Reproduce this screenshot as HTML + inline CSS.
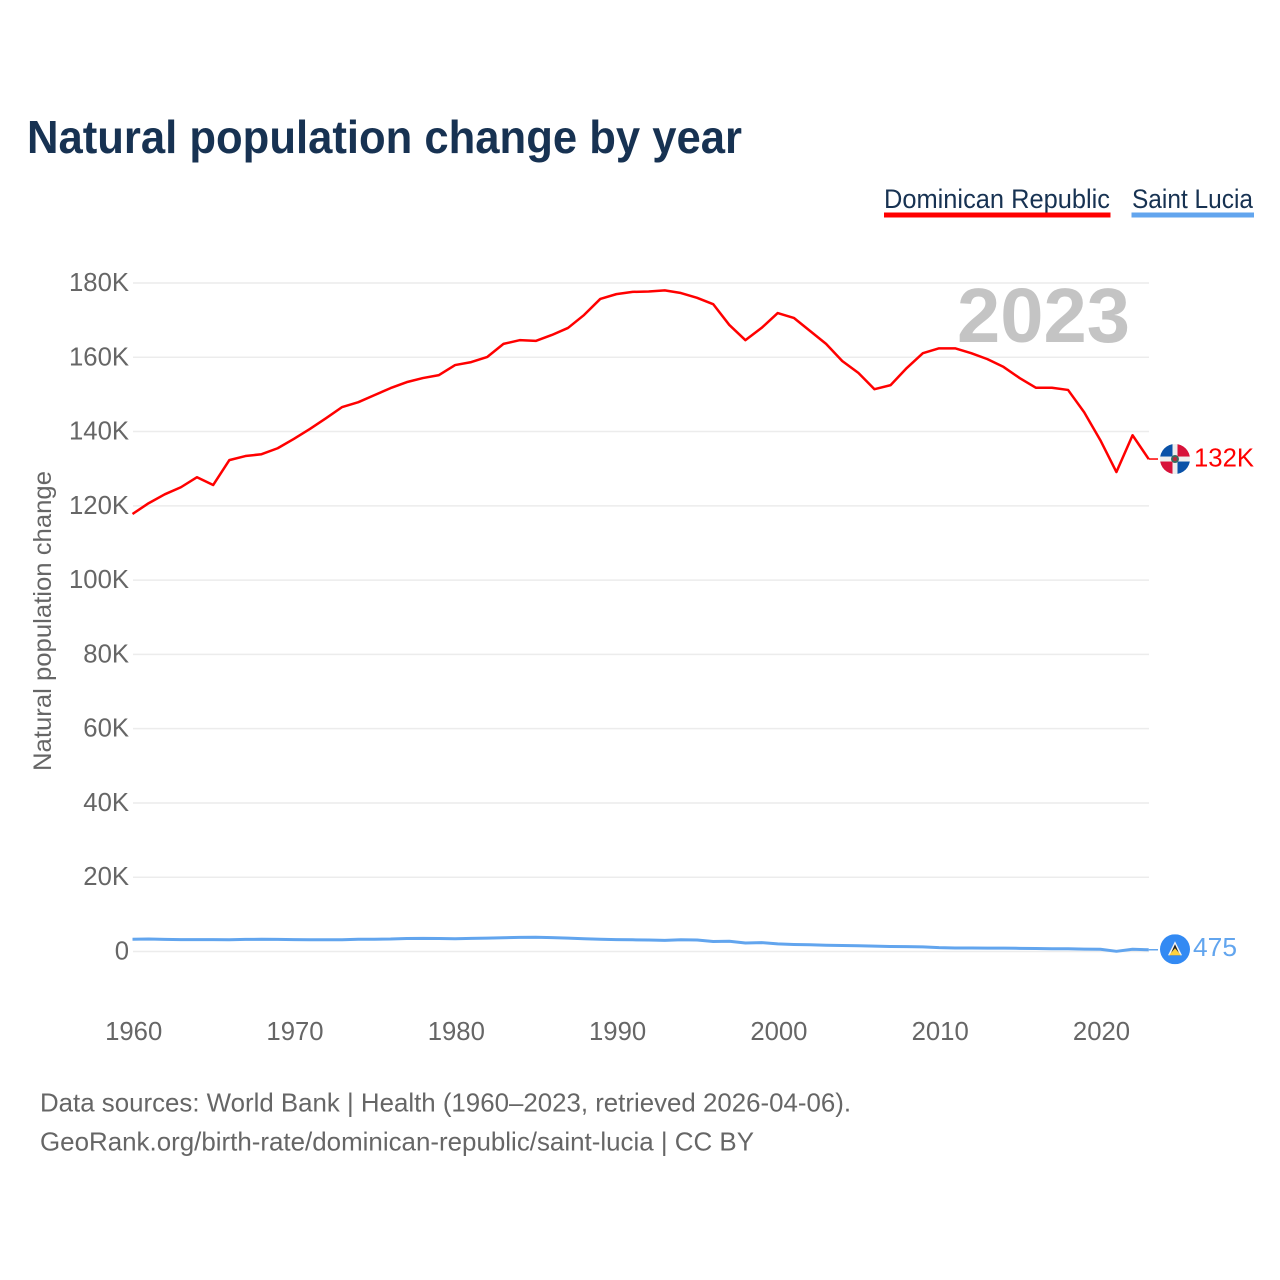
<!DOCTYPE html>
<html lang="en">
<head>
<meta charset="utf-8">
<title>Natural population change by year</title>
<style>
html,body{margin:0;padding:0;background:#fff;width:1280px;height:1280px;overflow:hidden}
svg{display:block;font-family:"Liberation Sans",sans-serif}
</style>
</head>
<body>
<svg id="chart" width="1280" height="1280" viewBox="0 0 1280 1280" xmlns="http://www.w3.org/2000/svg">
  <defs>
    <clipPath id="flag-clip-do"><circle cx="0" cy="0" r="15"/></clipPath>
    <clipPath id="flag-clip-lc"><circle cx="0" cy="0" r="15"/></clipPath>
  </defs>
  <rect width="1280" height="1280" fill="#fff"/>
  <text x="27" y="153" font-size="46" font-weight="700" fill="#173252" textLength="715" lengthAdjust="spacingAndGlyphs">Natural population change by year</text>

  <g>
    <g>
      <text x="884" y="208" font-size="27" fill="#173252" textLength="226" lengthAdjust="spacingAndGlyphs">Dominican Republic</text>
      <rect x="884" y="212.5" width="226.500" height="5" fill="#ff0000"/>
    </g>
    <g>
      <text x="1132" y="208" font-size="27" fill="#173252" textLength="121" lengthAdjust="spacingAndGlyphs">Saint Lucia</text>
      <rect x="1131.500" y="212.5" width="122.500" height="5" fill="#62a5ee"/>
    </g>
  </g>

  <g id="grid"></g>
  <g id="y-ticks"></g>
  <g id="x-ticks"></g>

  <text transform="translate(51,771) rotate(-90)" x="0" y="0" font-size="25" fill="#666" textLength="300" lengthAdjust="spacingAndGlyphs">Natural population change</text>
  <text x="957" y="342" font-size="77" font-weight="700" fill="#c4c4c4" textLength="173" lengthAdjust="spacingAndGlyphs">2023</text>

  <g id="series"></g>

  <g id="flag-do">
    <g clip-path="url(#flag-clip-do)">
      <rect x="-15" y="-15" width="30" height="30" fill="#eeeeee"/>
      <rect x="-15" y="-15" width="12.500" height="12.500" fill="#0a52a8"/>
      <rect x="2.500" y="2.500" width="12.500" height="12.500" fill="#0a52a8"/>
      <rect x="2.500" y="-15" width="12.500" height="12.500" fill="#d8123a"/>
      <rect x="-15" y="2.500" width="12.500" height="12.500" fill="#d8123a"/>
      <circle cx="0" cy="0" r="4" fill="#3e6a5c"/>
      <circle cx="0" cy="0" r="2" fill="#b8283c"/>
    </g>
  </g>
  <g id="flag-lc">
    <g clip-path="url(#flag-clip-lc)">
      <rect x="-15" y="-15" width="30" height="30" fill="#338af3"/>
      <polygon points="0,-8 7,6 -7,6" fill="#f2f2f2"/>
      <polygon points="0,-5 5,6 -5,6" fill="#222222"/>
      <polygon points="0,-1 6,6 -6,6" fill="#ffd13c"/>
    </g>
  </g>
  <text id="value-do" x="1194" font-size="26" fill="#ff0000" textLength="60" lengthAdjust="spacingAndGlyphs">132K</text>
  <text id="value-lc" x="1193" font-size="26" fill="#62a5ee" textLength="44" lengthAdjust="spacingAndGlyphs">475</text>

  <text x="40" y="1111.5" font-size="26" fill="#666" textLength="811" lengthAdjust="spacingAndGlyphs">Data sources: World Bank | Health (1960–2023, retrieved 2026-04-06).</text>
  <text x="40" y="1150.5" font-size="26" fill="#666" textLength="714" lengthAdjust="spacingAndGlyphs">GeoRank.org/birth-rate/dominican-republic/saint-lucia | CC BY</text>
</svg>
<script>
const firstYear = 1960;
const dominicanRepublic = [117.8,120.7,123.1,125.0,127.7,125.6,132.3,133.4,133.9,135.5,138.0,140.7,143.6,146.6,147.9,149.8,151.7,153.3,154.4,155.2,157.9,158.7,160.1,163.6,164.6,164.4,166.0,167.9,171.4,175.7,177.0,177.6,177.7,178.0,177.3,176.0,174.3,168.7,164.6,167.9,171.9,170.6,167.1,163.6,159.0,155.8,151.4,152.5,157.1,161.1,162.4,162.4,161.1,159.5,157.4,154.4,151.8,151.8,151.2,145.2,137.7,129.1,139.0,132.6];
const saintLucia = [3.3,3.35,3.25,3.2,3.2,3.2,3.15,3.25,3.3,3.25,3.2,3.15,3.15,3.15,3.3,3.3,3.35,3.5,3.55,3.5,3.45,3.55,3.6,3.7,3.8,3.85,3.75,3.6,3.45,3.3,3.2,3.15,3.1,3.0,3.15,3.1,2.7,2.75,2.3,2.4,2.05,1.9,1.8,1.7,1.6,1.55,1.45,1.35,1.3,1.25,1.05,0.95,0.95,0.9,0.9,0.85,0.8,0.75,0.75,0.65,0.6,0.05,0.6,0.475];
const yTickValues = [0,20,40,60,80,100,120,140,160,180];
const yTickLabels = ["0","20K","40K","60K","80K","100K","120K","140K","160K","180K"];
const xTickYears = [1960,1970,1980,1990,2000,2010,2020];

const NS = "http://www.w3.org/2000/svg";
function xScale(year) { return 132.5 + (year - 1960) * 16.13; }
function yScale(k) { return 951.5 - k * 3.714; }
function make(tag, attrs, parent) {
  const el = document.createElementNS(NS, tag);
  for (const key in attrs) el.setAttribute(key, attrs[key]);
  parent.appendChild(el);
  return el;
}

const grid = document.getElementById("grid");
const yTicks = document.getElementById("y-ticks");
const xTicks = document.getElementById("x-ticks");
const seriesGroup = document.getElementById("series");

yTickValues.forEach(function (v, i) {
  const y = yScale(v);
  const line = make("line", {x1: 133, x2: 1149, y1: y, y2: y, stroke: "#ececec", "stroke-width": 1.5}, grid);
  
  
  const label = yTickLabels[i];
  const t = make("text", {x: 129, y: y + 8, "text-anchor": "end", "font-size": 25.7, fill: "#666"}, yTicks);
  
  
  t.textContent = label;
});

xTickYears.forEach(function (year) {
  const t = make("text", {x: xScale(year) + 1.2, y: 1040, "text-anchor": "middle", "font-size": 25.7, fill: "#666"}, xTicks);
  
  
  t.textContent = String(year);
});

function drawSeries(values, color, width) {
  const d = values.map(function (v, i) {
    return (i ? "L" : "M") + xScale(firstYear + i).toFixed(2) + " " + yScale(v).toFixed(2);
  }).join("");
  return make("path", {d: d, fill: "none", stroke: color, "stroke-width": width, "stroke-linejoin": "round"}, seriesGroup);
}
function lastPoint(values) {
  const last = values.length - 1;
  return {x: xScale(firstYear + last), y: yScale(values[last])};
}

const lineDo = drawSeries(dominicanRepublic, "#ff0000", 2.5);


const lineLc = drawSeries(saintLucia, "#62a5ee", 3);



const endDo = lastPoint(dominicanRepublic);
const endLc = lastPoint(saintLucia);
const leaderDo = make("line", {x1: endDo.x, x2: 1158, y1: endDo.y, y2: endDo.y, stroke: "#ff0000", "stroke-width": 1.5}, seriesGroup);


const leaderLc = make("line", {x1: endLc.x, x2: 1158, y1: endLc.y, y2: endLc.y, stroke: "#62a5ee", "stroke-width": 1.5}, seriesGroup);



document.getElementById("flag-do").setAttribute("transform", "translate(1175," + endDo.y + ")");
document.getElementById("flag-lc").setAttribute("transform", "translate(1175," + (endLc.y - 0.5) + ")");
document.getElementById("value-do").setAttribute("y", endDo.y + 7.5);
document.getElementById("value-lc").setAttribute("y", endLc.y + 6.5);
</script>
</body>
</html>
